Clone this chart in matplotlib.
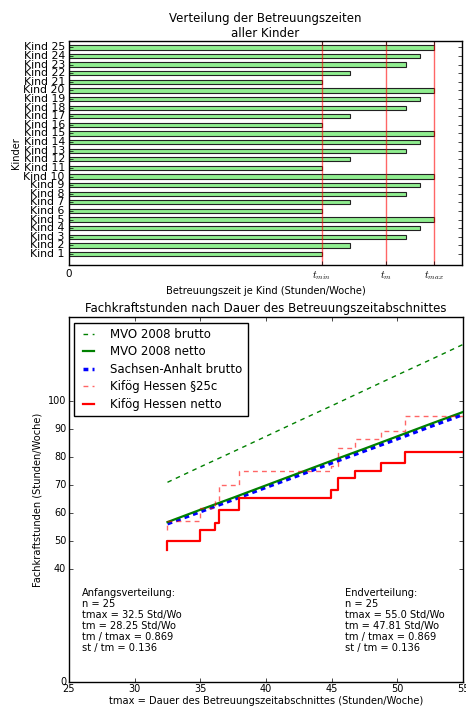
import matplotlib
matplotlib.use('Agg')
import matplotlib.pyplot as plt

plt.style.use('classic')
plt.rcParams['font.family'] = ['DejaVu Sans']
plt.rcParams['mathtext.fontset'] = 'cm'
plt.rcParams['lines.scale_dashes'] = False

# ---------------- data ----------------
kinder = ['Kind %d' % i for i in range(1, 26)]
betreuungszeit = [22.5, 25.0, 30.0, 31.25, 32.5,
                  22.5, 25.0, 30.0, 31.25, 32.5,
                  22.5, 25.0, 30.0, 31.25, 32.5,
                  22.5, 25.0, 30.0, 31.25, 32.5,
                  22.5, 25.0, 30.0, 31.25, 32.5]
marker_values = [22.5, 28.25, 32.5]
top_xticks = [0, 22.5, 28.25, 32.5]
top_xticklabels = ['0', r'$t_{min}$', r'$t_m$', r'$t_{max}$']

tmax_line = [32.5, 35.0, 37.5, 40.0, 42.5, 45.0, 47.5, 50.0, 52.5, 55.0]
mvo_brutto = [71.1, 76.6, 82.0, 87.5, 93.0, 98.4, 103.9, 109.4, 114.8, 120.3]
mvo_netto = [56.9, 61.3, 65.6, 70.0, 74.4, 78.8, 83.1, 87.5, 91.9, 96.2]
sachsen_anhalt_brutto = [56.3, 60.6, 64.9, 69.3, 73.6, 78.0, 82.3, 86.6, 91.0, 95.3]

tmax_steps = [32.5, 32.5, 35.0, 36.1, 36.4, 37.95, 44.95, 45.45, 46.8, 48.75, 50.55, 55.0]
hessen_25c = [54.0, 57.3, 61.8, 64.6, 70.3, 75.2, 76.8, 83.3, 86.5, 89.5, 94.7, 94.7]
hessen_netto = [46.8, 50.0, 54.2, 56.7, 61.1, 65.6, 68.2, 72.5, 75.2, 77.9, 82.0, 82.0]

bottom_yticks = [0, 40, 50, 60, 70, 80, 90, 100]
bottom_xticks = [25, 30, 35, 40, 45, 50, 55]

text_anfang = ("Anfangsverteilung:\nn = 25\ntmax = 32.5 Std/Wo\ntm = 28.25 Std/Wo\n"
               "tm / tmax = 0.869\nst / tm = 0.136")
text_end = ("Endverteilung:\nn = 25\ntmax = 55.0 Std/Wo\ntm = 47.81 Std/Wo\n"
            "tm / tmax = 0.869\nst / tm = 0.136")

# ---------------- figure ----------------
fig = plt.figure(figsize=(4.66, 7.06), dpi=100, facecolor='white')

ax1 = fig.add_axes([0.148, 0.625, 0.843, 0.317])
pos = list(range(1, 26))
ax1.barh(pos, betreuungszeit, height=0.5, color='#90ee90',
         edgecolor='#222222', linewidth=0.8, align='center')
for v in marker_values:
    ax1.axvline(v, color='red', alpha=0.6, linewidth=1.0)
ax1.set_xlim(0, 35)
ax1.set_ylim(-0.25, 25.75)
ax1.set_yticks(pos)
ax1.set_yticklabels(kinder, fontsize=7.8)
ax1.set_xticks(top_xticks)
ax1.set_xticklabels(top_xticklabels, fontsize=7.5)
ax1.tick_params(length=3, pad=3)
ax1.set_title('Verteilung der Betreuungszeiten\naller Kinder', fontsize=8.5, pad=3)
ax1.set_xlabel('Betreuungszeit je Kind (Stunden/Woche)', fontsize=7.1, labelpad=3)
ax1.set_ylabel('Kinder', fontsize=7.1, labelpad=2)

ax2 = fig.add_axes([0.148, 0.0347, 0.8456, 0.5159])
ax2.plot(tmax_line, mvo_brutto, color='green', linestyle='--', dashes=(3.3, 3.3),
         linewidth=1.0, label='MVO 2008 brutto', zorder=3)
ax2.plot(tmax_line, mvo_netto, color='green', linestyle='-', linewidth=1.6,
         label='MVO 2008 netto', zorder=3)
ax2.plot(tmax_line, sachsen_anhalt_brutto, color='blue', linestyle='--', dashes=(3.5, 3),
         linewidth=2.5, label='Sachsen-Anhalt brutto', zorder=2)
ax2.plot(tmax_steps, hessen_25c, color='red', alpha=0.6, linestyle='--', dashes=(3.5, 3),
         linewidth=1.0, drawstyle='steps-post', label='Kif\u00f6g Hessen \u00a725c', zorder=3)
ax2.plot(tmax_steps, hessen_netto, color='red', linestyle='-', linewidth=1.6,
         drawstyle='steps-post', label='Kif\u00f6g Hessen netto', zorder=3)
ax2.set_xlim(25, 55)
ax2.set_ylim(0, 130)
ax2.set_xticks(bottom_xticks)
ax2.set_yticks(bottom_yticks)
ax2.tick_params(labelsize=7, length=3, pad=2)
ax2.set_title('Fachkraftstunden nach Dauer des Betreuungszeitabschnittes', fontsize=8.5, pad=4)
ax2.set_xlabel('tmax = Dauer des Betreuungszeitabschnittes (Stunden/Woche)', fontsize=7.1, labelpad=1)
ax2.set_ylabel('Fachkraftstunden (Stunden/Woche)', fontsize=7.1, labelpad=4)
leg = ax2.legend(loc='upper left', fontsize=8.5, frameon=True, fancybox=False,
                 borderaxespad=0.45, handlelength=1.5, handletextpad=1.1,
                 labelspacing=0.38, borderpad=0.45)
leg.get_frame().set_edgecolor('black')
ax2.text(26.0, 33.2, text_anfang, fontsize=7.1, va='top', ha='left', linespacing=1.12)
ax2.text(46.0, 33.2, text_end, fontsize=7.1, va='top', ha='left', linespacing=1.12)

fig.savefig('out.png', dpi=100, facecolor='white')
